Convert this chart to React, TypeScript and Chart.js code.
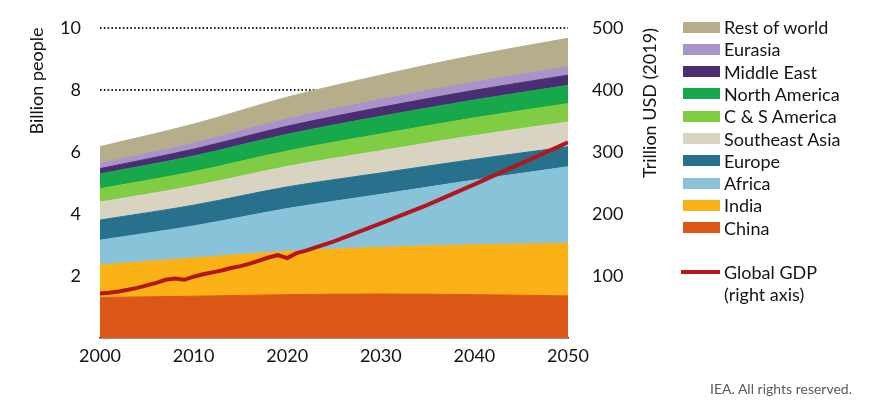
import React, { useEffect, useRef } from 'react';
import { Chart, registerables } from 'chart.js';

Chart.register(...registerables);

// ---- Data ----
const years = [2000, 2010, 2020, 2030, 2040, 2050];
const china = [1.31, 1.35, 1.40, 1.42, 1.40, 1.36];
const india = [1.05, 1.23, 1.40, 1.51, 1.61, 1.70];
const africa = [0.80, 1.04, 1.38, 1.71, 2.09, 2.47];
const europe = [0.65, 0.67, 0.70, 0.69, 0.67, 0.65];
const southeastAsia = [0.58, 0.62, 0.66, 0.72, 0.77, 0.80];
const csAmerica = [0.43, 0.46, 0.50, 0.54, 0.57, 0.59];
const northAmerica = [0.48, 0.51, 0.54, 0.57, 0.58, 0.59];
const middleEast = [0.17, 0.22, 0.26, 0.29, 0.31, 0.33];
const eurasia = [0.17, 0.20, 0.24, 0.26, 0.27, 0.27];
const restOfWorld = [0.54, 0.61, 0.70, 0.78, 0.86, 0.92];

const gdpYears = [2000, 2001, 2002, 2003, 2004, 2005, 2006, 2007, 2008, 2009, 2010, 2011, 2012, 2013, 2014, 2015, 2016, 2017, 2018, 2019, 2020, 2021, 2022, 2025, 2030, 2035, 2040, 2045, 2050];
const gdpValues = [72, 73, 75, 78, 81, 85, 89, 94, 96, 94, 99, 103, 106, 109, 113, 116, 120, 125, 130, 134, 129, 137, 141, 156, 185, 215, 248, 282, 316];

const xTicks = [2000, 2010, 2020, 2030, 2040, 2050];
const leftTicks = [2, 4, 6, 8, 10];
const rightTicks = [100, 200, 300, 400, 500];

const regionLabels = ['China', 'India', 'Africa', 'Europe', 'Southeast Asia', 'C & S America', 'North America', 'Middle East', 'Eurasia', 'Rest of world'];
const regionValues = [china, india, africa, europe, southeastAsia, csAmerica, northAmerica, middleEast, eurasia, restOfWorld];
const regionColors = ['#dc5716', '#fbb216', '#88c3d9', '#27718c', '#d9d4c2', '#80cc42', '#17a84c', '#4a2d72', '#a993c9', '#b6ae8a'];
const gdpLabel = ['Global GDP', '(right axis)'];
const gdpColor = '#b3161c';

const FONT = 'Lato, "Open Sans", sans-serif';
const TEXT = '#151515';

const axisTitles = {
  id: 'axisTitles',
  afterDraw(chart: any) {
    const ctx = chart.ctx;
    ctx.save();
    ctx.fillStyle = TEXT;
    ctx.font = `18px ${FONT}`;
    ctx.textAlign = 'center';
    ctx.textBaseline = 'middle';
    ctx.translate(37, 81);
    ctx.rotate(-Math.PI / 2);
    ctx.fillText('Billion people', 0, 0);
    ctx.restore();
    ctx.save();
    ctx.fillStyle = TEXT;
    ctx.font = `18px ${FONT}`;
    ctx.textAlign = 'center';
    ctx.textBaseline = 'middle';
    ctx.translate(650, 103);
    ctx.rotate(-Math.PI / 2);
    ctx.fillText('Trillion USD (2019)', 0, 0);
    ctx.restore();
  },
};

const noPad = (s: any) => { s.paddingTop = 0; s.paddingBottom = 0; };

export default function App() {
  const ref = useRef<HTMLCanvasElement | null>(null);

  useEffect(() => {
    document.body.style.margin = '0';
    if (!ref.current) return;
    Chart.defaults.font.family = FONT;
    Chart.defaults.color = TEXT;

    const popSets = regionLabels.map((label, i) => ({
      type: 'line' as const,
      label,
      data: years.map((x, j) => ({ x, y: regionValues[i][j] })),
      yAxisID: 'y',
      fill: i === 0 ? 'origin' : '-1',
      backgroundColor: regionColors[i],
      borderColor: regionColors[i],
      borderWidth: 1,
      pointRadius: 0,
      cubicInterpolationMode: 'monotone' as const,
      order: 1,
    }));

    const gdpSet = {
      type: 'line' as const,
      label: gdpLabel.join(' '),
      data: gdpYears.map((x, j) => ({ x, y: gdpValues[j] })),
      yAxisID: 'y2',
      fill: false,
      borderColor: gdpColor,
      backgroundColor: gdpColor,
      borderWidth: 4,
      pointRadius: 0,
      tension: 0,
      order: 0,
    };

    const chart = new Chart(ref.current, {
      type: 'line',
      data: { datasets: [...popSets, gdpSet] as any },
      options: {
        responsive: false,
        animation: false,
        devicePixelRatio: 1,
        layout: { padding: { top: 28.4, left: 0, right: 0, bottom: 0 } },
        plugins: { legend: { display: false }, tooltip: { enabled: false } },
        scales: {
          x: {
            type: 'linear',
            min: 2000,
            max: 2050,
            afterBuildTicks: (s: any) => { s.ticks = xTicks.map((v) => ({ value: v })); },
            ticks: { callback: (v: any) => String(v), font: { size: 18 }, color: TEXT, padding: 7, maxRotation: 0 },
            grid: { display: false, drawTicks: false },
            border: { display: true, color: '#3b2b22', width: 1.5 },
            afterFit: (s: any) => { s.height = 67; s.paddingLeft = 0; s.paddingRight = 0; },
          },
          y: {
            stacked: true,
            min: 0,
            max: 10,
            afterBuildTicks: (s: any) => { s.ticks = [0, ...leftTicks].map((v) => ({ value: v })); },
            ticks: { callback: (v: any) => (v === 0 ? '' : String(v)), font: { size: 18 }, color: TEXT, padding: 19 },
            grid: {
              color: (c: any) => (c.tick && c.tick.value === 0 ? 'rgba(0,0,0,0)' : '#222'),
              lineWidth: 2,
              drawTicks: false,
            },
            border: { display: false, dash: [1.6, 2.2] },
            afterFit: (s: any) => { s.width = 100; noPad(s); },
          },
          y2: {
            position: 'right',
            min: 0,
            max: 500,
            afterBuildTicks: (s: any) => { s.ticks = [0, ...rightTicks].map((v) => ({ value: v })); },
            ticks: { callback: (v: any) => (v === 0 ? '' : String(v)), font: { size: 18 }, color: TEXT, padding: 24 },
            grid: { display: false, drawTicks: false },
            border: { display: false },
            afterFit: (s: any) => { s.width = 306; noPad(s); },
          },
        },
      } as any,
      plugins: [axisTitles],
    });
    return () => chart.destroy();
  }, []);

  const legendOrder = regionLabels.map((l, i) => i).reverse();

  return (
    <div style={{ position: 'relative', width: 874, height: 405, background: '#fff', fontFamily: FONT, color: TEXT }}>
      <canvas ref={ref} width={874} height={405} style={{ position: 'absolute', left: 0, top: 0, width: 874, height: 405 }} />
      {legendOrder.map((idx, row) => (
        <div key={regionLabels[idx]} style={{ position: 'absolute', left: 683, top: 16 + row * 22.3, height: 22, display: 'flex', alignItems: 'center', fontSize: 18, lineHeight: '22px', whiteSpace: 'nowrap' }}>
          <span style={{ display: 'inline-block', width: 37, height: 11, background: regionColors[idx] }} />
          <span style={{ marginLeft: 4 }}>{regionLabels[idx]}</span>
        </div>
      ))}
      <div style={{ position: 'absolute', left: 681, top: 270, width: 39, height: 4, background: gdpColor }} />
      <div style={{ position: 'absolute', left: 724, top: 261, fontSize: 18, lineHeight: '22px', whiteSpace: 'nowrap' }}>
        <div>{gdpLabel[0]}</div>
        <div>{gdpLabel[1]}</div>
      </div>
      <div style={{ position: 'absolute', right: 22, top: 380, fontSize: 14, lineHeight: '18px', color: '#5a5a5a', whiteSpace: 'nowrap' }}>
        IEA. All rights reserved.
      </div>
    </div>
  );
}
